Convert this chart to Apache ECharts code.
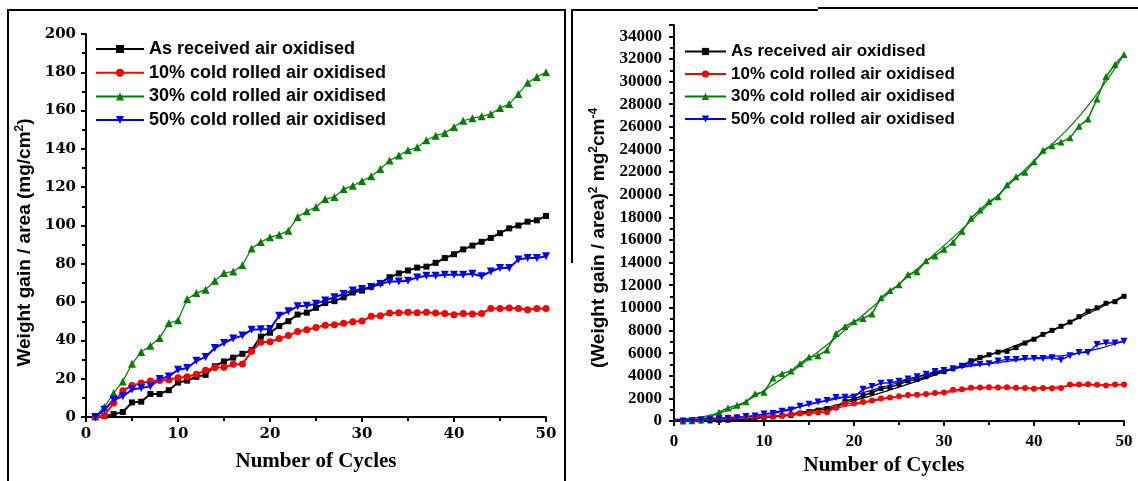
<!DOCTYPE html>
<html><head><meta charset="utf-8">
<script src="https://cdn.jsdelivr.net/npm/echarts@6/dist/echarts.min.js"></script>
<style>html,body{margin:0;padding:0;background:#fff}#c{width:1138px;height:481px}</style>
</head><body><div id="c"></div>
<script>
const seriesNames = ['As received air oxidised','10% cold rolled air oxidised','30% cold rolled air oxidised','50% cold rolled air oxidised'];
const cycles = [1,2,3,4,5,6,7,8,9,10,11,12,13,14,15,16,17,18,19,20,21,22,23,24,25,26,27,28,29,30,31,32,33,34,35,36,37,38,39,40,41,42,43,44,45,46,47,48,49,50];

// Left panel: weight gain / area (mg/cm2)
const asReceived = [0,0.5,1.5,2.6,7.6,8,12,12,14,18,19,21,22,26.5,29,31,33,35,42,44,47.5,50,53.5,54.5,57,59.5,60.5,62.5,65,66,68,70,73,75,76.5,78,78.5,80.5,83,85,87.5,89.5,91.5,93.5,96,98.5,100,102,102.7,105];
const cold10 = [0,0.7,7.3,13.7,16.5,17.7,18.8,19,19.5,20.5,21,22.3,24.4,25.8,26,27.5,27.7,34.3,39,39.3,41,42.5,44.7,45.6,46.8,47.9,48.2,48.9,49.8,50.1,52.6,52.9,54.3,54.5,54.7,54.5,54.7,54.3,54.1,53.4,54,53.8,54,56.7,56.7,56.9,56.6,56,56.7,56.7];
const cold30 = [0.3,5.2,12.5,18.6,27.8,34,37.2,41.3,49,50.5,61.6,64.7,66.5,71.2,75.2,76,79.2,88,91.4,93.8,95.2,97.3,104.4,107.4,109.7,113.8,114.9,119,120.8,123.2,125.7,129.5,133.9,136.6,139.3,140.8,144.5,146.9,148.3,151.4,154.7,156,157,158.2,161.4,163.4,168.7,174.5,177.5,180];
const cold50 = [0,3.8,9,10.8,14.3,15.1,16,19.8,21.2,24.7,25.6,29.4,31.3,36,38.6,41,42.5,45.6,45.8,46,52.9,55.2,57.8,58.1,59.2,60.9,62.5,64.2,66.1,66.8,67.9,69.5,70.8,70.8,71.2,72.9,73.8,73.8,74.3,74.3,74.3,74.8,73.5,76,77.8,77.8,82.2,83,83,83.9];

// Right panel: (weight gain / area)^2 (mg2 cm-4)
const asReceivedSq = [0,0,2,7,58,64,144,144,196,324,361,441,484,702,841,961,1089,1225,1764,1936,2256,2500,2862,2970,3249,3540,3660,3906,4225,4356,4624,4900,5329,5625,5852,6084,6162,6480,6889,7225,7656,8010,8372,8742,9216,9702,10000,10404,10547,11025];
const cold10Sq = [0,0,53,188,272,313,353,361,380,420,441,497,595,666,676,756,767,1176,1521,1544,1681,1806,1998,2079,2190,2294,2323,2391,2480,2510,2767,2798,2948,2970,2992,2970,2992,2948,2927,2852,2916,2894,2916,3215,3215,3238,3204,3136,3215,3215];
const cold30Sq = [0,27,156,346,773,1156,1384,1706,2401,2550,3795,4186,4422,5069,5655,5776,6273,7744,8354,8798,9063,9467,10899,11535,12034,12950,13202,14161,14593,15178,15800,16770,17929,18660,19404,19825,20880,21580,21993,22922,23932,24336,24649,25027,26050,26700,28460,30450,31506,32400];
const cold50Sq = [0,14,81,117,204,228,256,392,449,610,655,864,980,1296,1490,1681,1806,2079,2098,2116,2798,3047,3341,3376,3505,3709,3906,4122,4369,4462,4610,4830,5013,5013,5069,5314,5446,5446,5520,5520,5520,5595,5402,5776,6053,6053,6757,6889,6889,7039];

// Fitted curves on the right panel
const fitCycles = [0,5,10,15,20,25,30,35,40,45,50];
const asReceivedFit = [150,30,330,900,1800,3000,4350,5800,7300,9100,11100];
const cold10Fit = [100,270,420,680,1450,2150,2500,2950,2900,3150,3220];
const cold30Fit = [150,700,2700,5500,8700,12100,15500,19200,23000,26900,32400];
const cold50Fit = [100,200,620,1450,2300,3400,4450,5050,5550,6000,7050];

const colors = ['#000000','#ff0000','#008000','#0000ff'];
const symbols = ['rect','circle','triangle','triangle'];
const rotates = [0,0,0,180];

const pairs = (xs, ys) => xs.map((x,i)=>[x, ys[i]]);

const chart = echarts.init(document.getElementById('c'), null, {renderer:'canvas'});

const leftData = [asReceived, cold10, cold30, cold50];
const rightData = [asReceivedSq, cold10Sq, cold30Sq, cold50Sq];
const rightFit = [asReceivedFit, cold10Fit, cold30Fit, cold50Fit];
const leftSizes = [6,7,8,8];
const rightSizes = [5,6,7,7];
const widths = [2,2,1.2,2];

const series = [];
leftData.forEach((d,i)=>{
  series.push({
    name: seriesNames[i], type:'line', xAxisIndex:0, yAxisIndex:0,
    data: pairs(cycles, d), symbol: symbols[i], symbolSize: leftSizes[i], symbolRotate: rotates[i],
    showAllSymbol: true,
    lineStyle:{color: colors[i], width: widths[i]}, itemStyle:{color: colors[i]}, z: i===2?2:3,
    animation:false
  });
});
rightData.forEach((d,i)=>{
  series.push({
    name: seriesNames[i], type:'line', xAxisIndex:1, yAxisIndex:1,
    data: pairs(cycles, d), symbol: symbols[i], symbolSize: rightSizes[i], symbolRotate: rotates[i],
    showAllSymbol: true,
    lineStyle:{color: colors[i], width: 1.5}, itemStyle:{color: colors[i]},
    animation:false
  });
  series.push({
    name: seriesNames[i] + ' fit', type:'line', xAxisIndex:1, yAxisIndex:1,
    data: pairs(fitCycles, rightFit[i]), symbol:'none', smooth:0.5,
    lineStyle:{color: colors[i], width: 1.2}, animation:false
  });
});

const tickFontL = {fontFamily:'DejaVu Serif', fontWeight:'bold', fontSize:15, color:'#000'};
const tickFontR = {fontFamily:'Liberation Serif', fontWeight:'bold', fontSize:17, color:'#000'};
const axisLine = {lineStyle:{color:'#000', width:2}};
const axisTick = {length:5, lineStyle:{color:'#000', width:2}};
const minorTick = {show:true, splitNumber:2, length:4, lineStyle:{color:'#000', width:2}};
const plain = v => String(v);

const option = {
  backgroundColor:'#fff',
  animation:false,
  graphic:[
    {type:'polyline', shape:{points:[[8,481],[8,10],[565,10],[565,481]]}, style:{stroke:'#000', lineWidth:2, fill:null}},
    {type:'polyline', shape:{points:[[572,263],[572,10],[818,10]]}, style:{stroke:'#000', lineWidth:2, fill:null}},
    {type:'line', shape:{x1:818,y1:8,x2:1138,y2:8}, style:{stroke:'#000', lineWidth:2}}
  ],
  legend:[
    {data: seriesNames, orient:'vertical', left:90, top:35, itemWidth:48, itemHeight:10, itemGap:5.7,
     textStyle:{fontFamily:'Liberation Sans', fontWeight:'bold', fontSize:18, color:'#000', lineHeight:18},
     selectedMode:false},
    {data: seriesNames, orient:'vertical', left:679, top:38, itemWidth:41, itemHeight:9, itemGap:5.5,
     textStyle:{fontFamily:'Liberation Sans', fontWeight:'bold', fontSize:17, color:'#000', lineHeight:17},
     selectedMode:false}
  ],
  grid:[
    {left:86, right:592, top:34, bottom:64, containLabel:false},
    {left:674, right:14, top:25, bottom:57, containLabel:false}
  ],
  xAxis:[
    {gridIndex:0, type:'value', min:0, max:50, interval:10, splitLine:{show:false},
     axisLine, axisTick, minorTick, axisLabel:{...tickFontL, margin:10, formatter:plain},
     name:'Number of Cycles', nameLocation:'middle', nameGap:34,
     nameTextStyle:{fontFamily:'Liberation Serif', fontWeight:'bold', fontSize:21, color:'#000'}},
    {gridIndex:1, type:'value', min:0, max:50, interval:10, splitLine:{show:false},
     axisLine, axisTick, minorTick, axisLabel:{...tickFontR, margin:12, formatter:plain},
     name:'Number of Cycles', nameLocation:'middle', nameGap:34,
     nameTextStyle:{fontFamily:'Liberation Serif', fontWeight:'bold', fontSize:21, color:'#000', padding:[0,30,0,0]}}
  ],
  yAxis:[
    {gridIndex:0, type:'value', min:0, max:200, interval:20, splitLine:{show:false},
     axisLine, axisTick, minorTick, axisLabel:{...tickFontL, margin:10, formatter:plain},
     name:'{a|Weight gain / area (mg/cm}{s|2}{a|)}', nameLocation:'middle', nameGap:50, nameRotate:90,
     nameTextStyle:{padding:[0,34,0,0],
       rich:{a:{fontFamily:'Liberation Sans', fontWeight:'bold', fontSize:19, color:'#000', lineHeight:22},
             s:{fontFamily:'Liberation Sans', fontWeight:'bold', fontSize:12, color:'#000', verticalAlign:'top', lineHeight:22}}}},
    {gridIndex:1, type:'value', min:0, max:35000, interval:2000, splitLine:{show:false},
     axisLine, axisTick, minorTick, axisLabel:{...tickFontR, margin:12, showMaxLabel:false, formatter:plain},
     name:'{a|(Weight gain / area)}{s|2}{a| mg}{s|2}{a|cm}{s|-4}', nameLocation:'middle', nameGap:64, nameRotate:90,
     nameTextStyle:{padding:[0,30,0,0],
       rich:{a:{fontFamily:'Liberation Sans', fontWeight:'bold', fontSize:19, color:'#000', lineHeight:22},
             s:{fontFamily:'Liberation Sans', fontWeight:'bold', fontSize:12, color:'#000', verticalAlign:'top', lineHeight:22}}}}
  ],
  series
};
chart.setOption(option);
</script></body></html>
